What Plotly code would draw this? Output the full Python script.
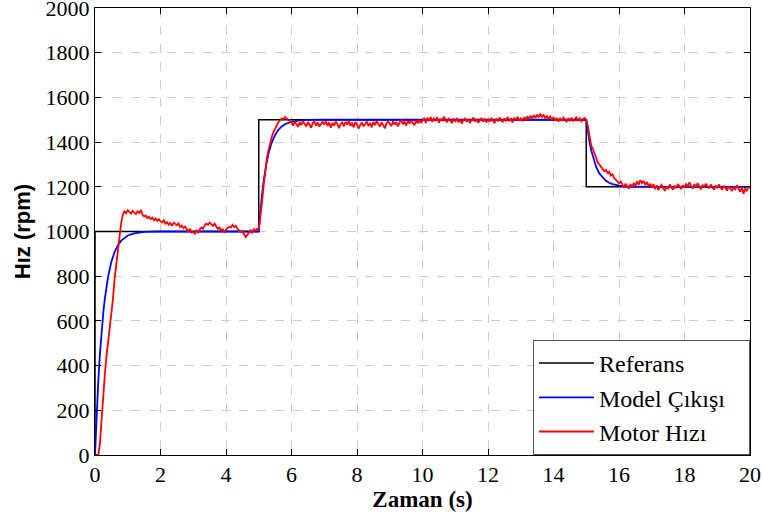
import plotly.graph_objects as go

# ---------------- data ----------------
ref_t = [0, 0, 5, 5, 15, 15, 20]
ref_v = [0, 1000, 1000, 1500, 1500, 1200, 1200]

model_t = [0, 0.05, 0.1, 0.15, 0.2, 0.25, 0.3, 0.4, 0.5, 0.6, 0.7, 0.8, 1.0, 1.2, 1.5, 2.0,
           5.0, 5.05, 5.1, 5.15, 5.2, 5.25, 5.3, 5.4, 5.5, 5.6, 5.7, 5.8, 6.0, 6.2, 6.5, 7.0,
           15.0, 15.05, 15.1, 15.15, 15.2, 15.25, 15.3, 15.4, 15.5, 15.6, 15.7, 15.8, 16.0, 16.2, 16.5, 17.0,
           20.0]
model_v = [0, 181, 330, 451, 551, 632, 699, 798, 865, 909, 939, 959, 982, 992, 998, 1000,
           1000, 1090, 1165, 1226, 1275, 1316, 1350, 1399, 1432, 1455, 1470, 1480, 1491, 1496, 1499, 1500,
           1500, 1446, 1401, 1364, 1335, 1310, 1290, 1260, 1241, 1227, 1218, 1212, 1205, 1202, 1201, 1200,
           1200]

motor_dt = 0.05
motor_v = [
    0, 0, 0, 50, 170, 290, 360, 440, 500, 560, 620, 700, 790, 850, 930, 990, 1040, 1075, 1090, 1082,
    1095, 1088, 1080, 1092, 1085, 1078, 1090, 1083, 1096, 1075, 1068, 1072, 1060, 1066, 1055, 1062, 1050, 1058, 1048, 1055,
    1045, 1040, 1050, 1035, 1042, 1030, 1038, 1025, 1040, 1032, 1028, 1036, 1020, 1026, 1015, 1022, 1008, 1000, 1012, 995,
    998, 990, 1005, 995, 1010, 1018, 1012, 1028, 1035, 1030, 1040, 1032, 1025, 1035, 1020, 1012, 1018, 1005, 1010, 998,
    1008, 1015, 1022, 1018, 1030, 1020, 1025, 1012, 1005, 998, 1002, 990, 975, 985, 998, 1005, 995, 1010, 1004, 1012,
    1010, 1060, 1130, 1210, 1280, 1330, 1365, 1400, 1425, 1445, 1462, 1478, 1490, 1498, 1505, 1502, 1512, 1506, 1500, 1494,
    1488, 1474, 1492, 1480, 1468, 1488, 1476, 1494, 1482, 1470, 1490, 1478, 1464, 1486, 1492, 1474, 1488, 1470, 1484, 1491,
    1479, 1494, 1472, 1488, 1464, 1486, 1474, 1492, 1481, 1462, 1480, 1490, 1470, 1491, 1478, 1495, 1472, 1487, 1466, 1490,
    1478, 1460, 1476, 1489, 1470, 1484, 1492, 1472, 1486, 1466, 1490, 1476, 1494, 1481, 1470, 1489, 1477, 1462, 1483, 1492,
    1482, 1472, 1493, 1478, 1490, 1470, 1488, 1497, 1480, 1492, 1474, 1495, 1483, 1498, 1486, 1476, 1496, 1484, 1500, 1488,
    1496, 1505, 1486, 1509, 1495, 1512, 1490, 1506, 1497, 1511, 1487, 1504, 1494, 1514, 1499, 1489, 1507, 1496, 1485, 1503,
    1494, 1508, 1488, 1502, 1483, 1499, 1506, 1490, 1503, 1486, 1497, 1510, 1492, 1504, 1487, 1500, 1508, 1491, 1502, 1489,
    1503, 1491, 1508, 1495, 1487, 1505, 1493, 1510, 1498, 1489, 1506, 1496, 1512, 1494, 1504, 1488, 1507, 1499, 1513, 1496,
    1506, 1494, 1511, 1500, 1515, 1502, 1518, 1506, 1521, 1508, 1523, 1510, 1527, 1513, 1521, 1506, 1518, 1503, 1514, 1500,
    1512, 1496, 1508, 1492, 1506, 1495, 1510, 1498, 1490, 1507, 1496, 1509, 1493, 1505, 1511, 1497, 1507, 1491, 1503, 1508,
    1500, 1470, 1420, 1385, 1370, 1345, 1330, 1310, 1300, 1290, 1285, 1270, 1276, 1262, 1268, 1250, 1256, 1238, 1232, 1225,
    1215, 1224, 1206, 1196, 1214, 1202, 1192, 1212, 1200, 1217, 1204, 1225, 1210, 1230, 1216, 1227, 1208, 1222, 1203, 1214,
    1198, 1212, 1189, 1207, 1185, 1199, 1209, 1193, 1182, 1202, 1190, 1210, 1196, 1187, 1205, 1194, 1212, 1198, 1190, 1207,
    1196, 1214, 1200, 1220, 1204, 1192, 1212, 1198, 1216, 1202, 1189, 1209, 1196, 1214, 1200, 1193, 1210, 1197, 1187, 1206,
    1194, 1210, 1196, 1187, 1205, 1192, 1183, 1202, 1189, 1181, 1200, 1186, 1207, 1192, 1177, 1198, 1169, 1192, 1180, 1200,
    1195,
]
motor_t = [round(i * motor_dt, 2) for i in range(len(motor_v))]

x_ticks = [0, 2, 4, 6, 8, 10, 12, 14, 16, 18, 20]
y_ticks = [0, 200, 400, 600, 800, 1000, 1200, 1400, 1600, 1800, 2000]

labels = ["Referans", "Model Çıkışı", "Motor Hızı"]

# ---------------- figure ----------------
SERIF = "Liberation Serif"
SANS = "Liberation Sans"
PAD = "\u00a0\u00a0\u00a0"


def serif_span(s, bold=False):
    w = "font-weight:bold;" if bold else ""
    return f"<span style='font-family:{SERIF};{w}'>{s}</span>"


fig = go.Figure()
fig.add_trace(go.Scatter(x=ref_t, y=ref_v, mode="lines", name=labels[0] + PAD, legendgroup="a",
                         line=dict(color="black", width=1.5)))
fig.add_trace(go.Scatter(x=model_t, y=model_v, mode="lines", name=labels[1] + PAD, legendgroup="b",
                         line=dict(color="#0000ff", width=1.8)))
fig.add_trace(go.Scatter(x=motor_t, y=motor_v, mode="lines", name=labels[2] + PAD, legendgroup="c",
                         line=dict(color="#ff0000", width=1.8)))

axis_common = dict(
    showline=True, mirror="ticks", linecolor="black", linewidth=1,
    ticks="inside", ticklen=6, tickcolor="black", tickwidth=1,
    showgrid=True, gridcolor="#cccccc", griddash="dash", gridwidth=1,
    zeroline=False, automargin=False, ticklabeloverflow="allow",
)
tick_font = dict(family=SERIF, size=22, color="black")

fig.update_layout(
    width=763, height=517,
    margin=dict(l=95, r=13, t=8, b=62),
    paper_bgcolor="white", plot_bgcolor="white",
    font=dict(family=SERIF, size=22, color="black"),
    showlegend=True,
    legend=dict(
        x=1, y=0, xanchor="right", yanchor="bottom",
        bgcolor="white", bordercolor="#555555", borderwidth=1,
        font=dict(family=SERIF, size=24, color="black"),
        itemwidth=55, tracegroupgap=8,
        traceorder="normal",
    ),
    xaxis=dict(
        range=[0, 20], tickvals=x_ticks, ticktext=[serif_span(v) for v in x_ticks],
        tickfont=tick_font,
        title=dict(text=serif_span("Zaman (s)", bold=True), font=dict(family=SERIF, size=23, color="black"), standoff=2),
        **axis_common,
    ),
    yaxis=dict(
        range=[0, 2000], tickvals=y_ticks, ticktext=[serif_span(v) for v in y_ticks],
        tickfont=tick_font,
        title=dict(text="<b>Hız (rpm)</b>", font=dict(family=SANS, size=22, color="black"), standoff=8),
        **axis_common,
    ),
)

# remove the browser's default 8px body margin so the figure sits at the page origin
fig.write_html("out.html", config={"displayModeBar": False},
               post_script="document.body.style.margin='0';")
